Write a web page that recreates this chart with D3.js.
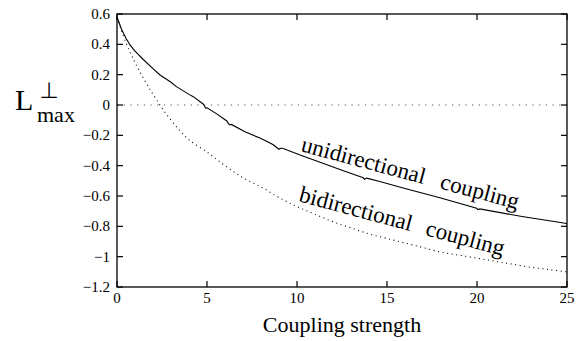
<!DOCTYPE html>
<html><head><meta charset="utf-8">
<script src="https://cdn.jsdelivr.net/npm/d3@7"></script>
<style>body{margin:0;background:#fff}svg{display:block}text{font-family:"Liberation Serif","Times New Roman",Times,serif}</style>
</head><body>
<script>
// Data
const uniX = [0,0.25,0.5,0.72,1,1.46,2,2.39,3,3.3,4,4.24,4.8,4.85,4.92,5.0,5.5,6.1,6.18,6.25,6.35,7.11,7.94,8.5,8.68,9.0,9.1,9.2,10.17,11.28,12.5,13.68,13.75,13.87,14.6,16,17.94,19.98,20.05,20.15,22.5,24.9,25];
const uniY = [0.58,0.5,0.44,0.396,0.355,0.3,0.24,0.198,0.15,0.121,0.07,0.055,0.005,-0.005,-0.02,-0.018,-0.055,-0.105,-0.121,-0.13,-0.128,-0.176,-0.218,-0.25,-0.262,-0.292,-0.285,-0.285,-0.33,-0.378,-0.43,-0.48,-0.49,-0.482,-0.505,-0.55,-0.612,-0.681,-0.69,-0.685,-0.735,-0.78,-0.785];
const biX = [0,0.5,1,1.5,2,2.5,3,3.5,4,5,6,7,8,9,10,11,12,13,14,15,16,17,18,19,20,21,22,23,24,25];
const biY = [0.575,0.41,0.28,0.17,0.07,-0.02,-0.1,-0.17,-0.23,-0.31,-0.4,-0.48,-0.54,-0.61,-0.67,-0.72,-0.77,-0.81,-0.85,-0.88,-0.91,-0.94,-0.97,-0.99,-1.01,-1.03,-1.05,-1.07,-1.085,-1.1];
const xTicks = [0,5,10,15,20,25];
const yTicks = [0.6,0.4,0.2,0,-0.2,-0.4,-0.6,-0.8,-1,-1.2];
const xTitle = "Coupling strength";
const labelUni = ["unidirectional","coupling"];
const labelBi = ["bidirectional","coupling"];

const W=581,H=341;
const L=117,R=567,T=14,B=287;
const x=d3.scaleLinear().domain([0,25]).range([L,R]);
const y=d3.scaleLinear().domain([-1.2,0.6]).range([B,T]);
const svg=d3.select("body").append("svg").attr("width",W).attr("height",H);
const fmt=v=>v===0?"0":(v<0?"\u2212":"")+String(Math.abs(v));

// zero line
svg.append("line").attr("x1",x(0)).attr("x2",x(25)).attr("y1",y(0)).attr("y2",y(0))
  .attr("stroke","#555").attr("stroke-width",1.2).attr("stroke-dasharray","1.2,5.5");

// curves
svg.append("path").datum(biX.map((v,i)=>[v,biY[i]]))
  .attr("d",d3.line().x(d=>x(d[0])).y(d=>y(d[1])).curve(d3.curveCatmullRom))
  .attr("fill","none").attr("stroke","#000").attr("stroke-width",1.1).attr("stroke-dasharray","1,3.6");
svg.append("path").datum(uniX.map((v,i)=>[v,uniY[i]]))
  .attr("d",d3.line().x(d=>x(d[0])).y(d=>y(d[1])))
  .attr("fill","none").attr("stroke","#000").attr("stroke-width",1.1);

// frame and ticks
svg.append("rect").attr("x",L).attr("y",T).attr("width",R-L).attr("height",B-T)
  .attr("fill","none").attr("stroke","#000").attr("stroke-width",1.3);
const tl=6;
const g=svg.append("g").attr("stroke","#000").attr("stroke-width",1.2);
xTicks.forEach(t=>{
  g.append("line").attr("x1",x(t)).attr("x2",x(t)).attr("y1",B).attr("y2",B-tl);
  g.append("line").attr("x1",x(t)).attr("x2",x(t)).attr("y1",T).attr("y2",T+tl);
});
yTicks.forEach(t=>{
  g.append("line").attr("x1",L).attr("x2",L+tl).attr("y1",y(t)).attr("y2",y(t));
  g.append("line").attr("x1",R).attr("x2",R-tl).attr("y1",y(t)).attr("y2",y(t));
});
svg.append("g").selectAll("text").data(xTicks).join("text")
  .attr("x",d=>x(d)).attr("y",B+16).attr("text-anchor","middle")
  .attr("font-size",15).text(d=>d);
svg.append("g").selectAll("text").data(yTicks).join("text")
  .attr("x",L-7).attr("y",d=>y(d)+5).attr("text-anchor","end")
  .attr("font-size",15).text(fmt);

// axis titles
svg.append("text").attr("x",(L+R)/2).attr("y",332).attr("text-anchor","middle")
  .attr("font-size",22).text(xTitle);
svg.append("text").attr("x",15).attr("y",110).attr("font-size",30).text("L");
svg.append("text").attr("x",37).attr("y",122).attr("font-size",22).text("max");
svg.append("text").attr("x",49).attr("y",98).attr("text-anchor","middle").style("font-family","'DejaVu Sans',sans-serif").attr("font-size",22).text("\u22A5");

// curve labels
function lab(x0,y0,words,off){
  const gg=svg.append("g").attr("transform",`translate(${x0},${y0}) rotate(15)`);
  gg.append("text").attr("x",0).attr("y",0).attr("font-size",23).text(words[0]);
  gg.append("text").attr("x",off).attr("y",0).attr("font-size",23).text(words[1]);
}
lab(300,151,labelUni,144);
lab(298,201,labelBi,131);
</script>
</body></html>
